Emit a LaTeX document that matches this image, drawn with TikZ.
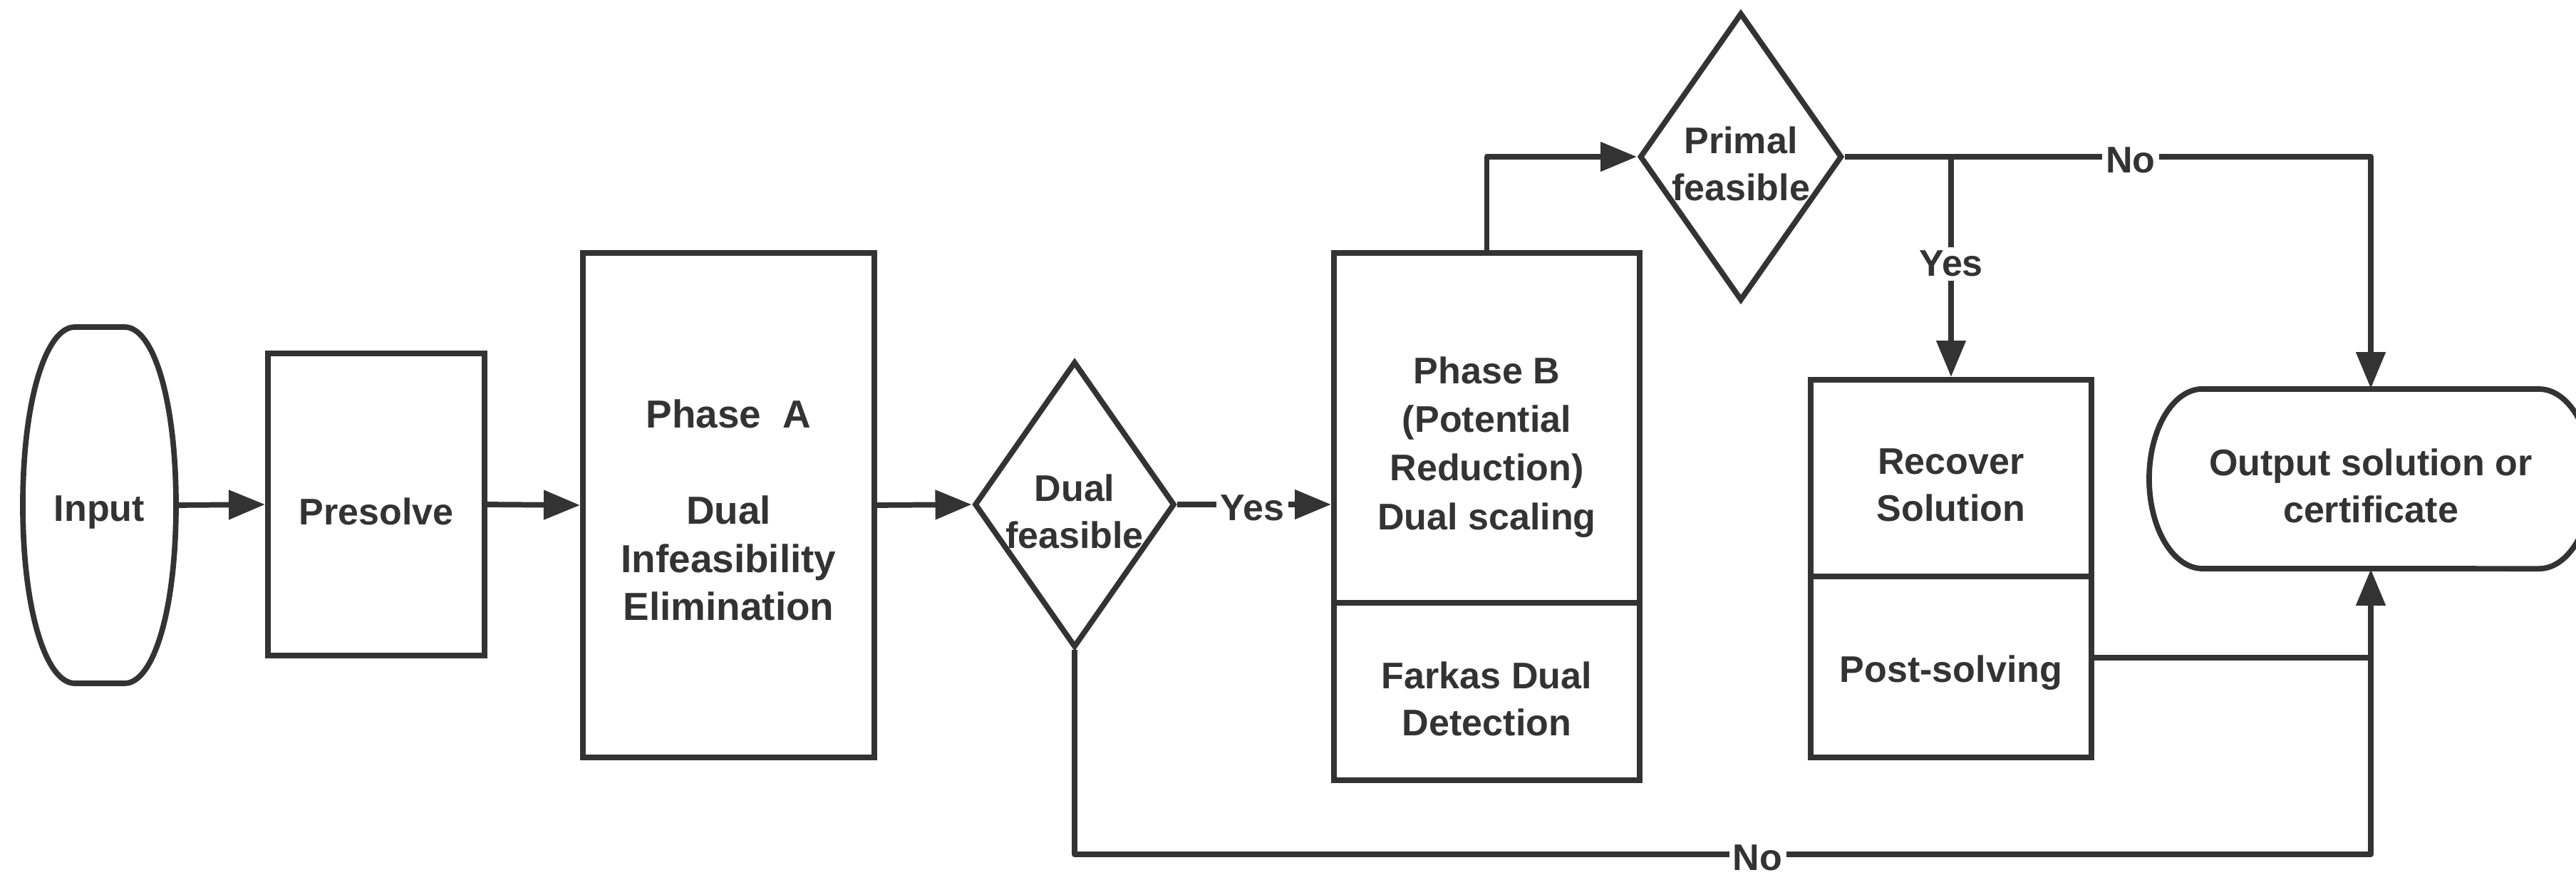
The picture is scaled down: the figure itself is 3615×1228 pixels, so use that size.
\documentclass[tikz,border=0pt]{standalone}
\usepackage{fontspec}
\setmainfont{Liberation Sans}
\usetikzlibrary{arrows.meta,shapes.geometric}
\definecolor{ink}{RGB}{51,51,51}
\begin{document}
\begin{tikzpicture}[x=0.01cm,y=-0.01cm,color=ink,
  font=\bfseries\fontsize{14.8}{18.8}\selectfont,
  box/.style={draw=ink,line width=2.2pt,rectangle,inner sep=0pt},
  ghost/.style={rectangle,inner sep=0pt},
  dec/.style={draw=ink,line width=2.2pt,diamond,aspect=0.7,inner sep=0pt},
  txt/.style={align=center,inner sep=0pt,text=ink,yshift=-0.1cm},
  conn/.style={draw=ink,line width=2.2pt,line join=round},
  arr/.style={conn,-{Triangle[length=0.51cm,width=0.40cm]}},
  lab/.style={fill=white,inner sep=1.5pt,text=ink,yshift=-0.05cm}]
\useasboundingbox (0,0) rectangle (3615,1228);

% nodes
\node[ghost,minimum width=2.15cm,minimum height=5.0cm,label={[txt]center:{Input}}] (in) at (139.5,709) {};
\node[box,minimum width=3.04cm,minimum height=4.24cm,label={[txt]center:{Presolve}}] (pre) at (528,708) {};
\node[box,minimum width=4.09cm,minimum height=7.08cm,
  label={[txt,yshift=0.03cm,font=\bfseries\fontsize{15.6}{19.2}\selectfont]center:{Phase~~A\\\mbox{}\\Dual\\Infeasibility\\Elimination}}] (pa) at (1022.5,709) {};
\node[dec,minimum width=2.81cm,minimum height=4.01cm,label={[txt]center:{Dual\\feasible}}] (dual) at (1508,708) {};
\node[box,minimum width=4.29cm,minimum height=4.91cm,
  label={[txt,yshift=-0.17cm,font=\bfseries\fontsize{14.8}{19.4}\selectfont]center:{Phase B\\(Potential\\Reduction)\\Dual scaling}}] (pbt) at (2086.5,600.5) {};
\node[box,minimum width=4.29cm,minimum height=2.49cm,label={[txt]center:{Farkas Dual\\Detection}}] (pbb) at (2086.5,970.5) {};
\node[dec,minimum width=2.84cm,minimum height=4.04cm,label={[txt]center:{Primal\\feasible}}] (primal) at (2443,220) {};
\node[box,minimum width=3.94cm,minimum height=2.76cm,label={[txt]center:{Recover\\Solution}}] (rt) at (2738,671) {};
\node[box,minimum width=3.94cm,minimum height=2.54cm,label={[txt,yshift=0.02cm]center:{Post-solving}}] (rb) at (2738,936) {};
\node[ghost,minimum width=6.22cm,minimum height=2.52cm,label={[txt]center:{Output solution or\\certificate}}] (out) at (3327,672) {};

% input shape
\draw[conn] (105,459) -- (175,459) .. controls (215,459) and (247,560) .. (247,709)
  .. controls (247,858) and (215,959) .. (175,959) -- (105,959)
  .. controls (65,959) and (32,858) .. (32,709)
  .. controls (32,560) and (65,459) .. (105,459) -- cycle;
% output shape
\draw[conn] (3091,546) -- (3563,546) arc[start angle=90,end angle=-90,x radius=0.75cm,y radius=1.26cm]
  -- (3091,798) arc[start angle=270,end angle=90,x radius=0.75cm,y radius=1.26cm] -- cycle;

% connectors
\draw[arr] (in.east) -- (pre.west);
\draw[arr] (pre.east) -- (pa.west);
\draw[arr] (pa.east) -- (dual.west);
\draw[arr] (dual.east) -- node[lab,pos=0.487]{Yes} (pbt.west |- dual.east);
\draw[arr] (pbt.north) |- (primal.west);
\coordinate (cn) at (primal.east -| out.north);
\draw[arr] (primal.east) -- node[lab,pos=0.543]{No} (cn) -- (out.north);
\coordinate (br) at (primal.east -| rt.north);
\draw[arr] (br) -- node[lab,pos=0.47]{Yes} (rt.north);
\coordinate (nb) at (1508,1199);
\coordinate (nc) at (nb -| out.south);
\draw[arr] (dual.south) -- (nb) -- node[lab,pos=0.527]{No} (nc) -- (out.south);
\draw[conn] ([yshift=0.13cm]rb.east) -- ([yshift=0.13cm]rb.east -| out.south);
\end{tikzpicture}
\end{document}
